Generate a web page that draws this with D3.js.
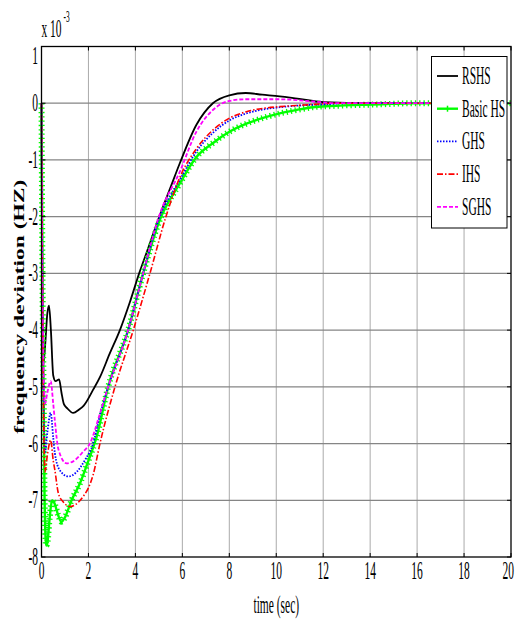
<!DOCTYPE html>
<html>
<head>
<meta charset="utf-8">
<script src="https://cdn.jsdelivr.net/npm/d3@7/dist/d3.min.js"></script>
<style>
  body { margin: 0; background: #fff; }
  svg { display: block; }
</style>
</head>
<body>
<div id="chart"></div>
<script>
// series, [time (sec), deviation x 1e-3]
const rshs = [[0,0],[0.03,-2.5],[0.08,-4.6],[0.15,-4.3],[0.25,-3.7],[0.32,-3.57],[0.4,-4.0],[0.5,-4.8],[0.6,-4.9],[0.75,-4.87],[0.85,-5.1],[0.95,-5.3],[1.1,-5.38],[1.35,-5.46],[1.6,-5.4],[1.8,-5.33],[2.2,-5.05],[2.5,-4.82],[2.9,-4.42],[3.34,-4.0],[3.77,-3.5],[4.16,-3.0],[4.55,-2.55],[5,-2.02],[5.5,-1.48],[5.9,-1.05],[6.6,-0.38],[7.3,0.0],[8.0,0.14],[8.7,0.18],[9.4,0.15],[10.15,0.12],[10.9,0.08],[12,0.02],[14,0],[20,0]];
const basicHS = [[0,0],[0.05,-3.5],[0.1,-5.5],[0.13,-6.95],[0.2,-7.8],[0.25,-7.75],[0.35,-7.3],[0.45,-7.0],[0.55,-7.05],[0.7,-7.25],[0.85,-7.38],[1.0,-7.3],[1.28,-7.0],[1.64,-6.7],[2.0,-6.3],[2.35,-5.88],[2.84,-5.0],[3.69,-4.0],[4.33,-3.0],[5.0,-2.1],[5.9,-1.41],[6.6,-0.95],[7.31,-0.7],[8.02,-0.5],[8.73,-0.36],[9.44,-0.26],[10.15,-0.18],[10.86,-0.12],[11.56,-0.07],[12.3,-0.05],[14.4,-0.02],[15.8,0],[20,0]];
const ghs = [[0,0],[0.03,-2.5],[0.08,-5.0],[0.15,-6.15],[0.25,-5.8],[0.39,-5.46],[0.5,-5.9],[0.57,-6.17],[0.78,-6.47],[1.14,-6.58],[1.5,-6.5],[1.85,-6.29],[2.2,-6.0],[2.49,-5.5],[2.84,-5.0],[3.69,-4.0],[4.33,-3.0],[5.0,-2.05],[5.9,-1.35],[6.6,-0.85],[7.31,-0.52],[8.02,-0.3],[8.73,-0.18],[9.44,-0.11],[10.15,-0.07],[11,-0.04],[12,-0.02],[13,0],[20,0]];
const ihs = [[0,0],[0.03,-2.5],[0.08,-5.2],[0.15,-6.5],[0.25,-6.2],[0.39,-5.94],[0.5,-6.3],[0.57,-6.47],[0.72,-6.88],[0.93,-7.03],[1.21,-7.11],[1.43,-7.08],[1.78,-6.93],[2.0,-6.78],[2.2,-6.55],[2.49,-6.0],[3.13,-5.0],[3.91,-4.0],[4.62,-3.0],[5.3,-2.0],[5.9,-1.3],[6.6,-0.8],[7.31,-0.47],[8.02,-0.26],[8.73,-0.15],[9.44,-0.09],[10.15,-0.06],[10.86,-0.04],[11.6,-0.02],[12.5,0],[20,0]];
const sghs = [[0,0],[0.03,-2.5],[0.08,-4.5],[0.15,-5.3],[0.25,-5.1],[0.39,-4.9],[0.5,-5.3],[0.57,-5.6],[0.72,-6.1],[1.07,-6.35],[1.43,-6.29],[1.78,-6.14],[2.06,-6.0],[2.49,-5.47],[2.84,-5.0],[3.69,-4.0],[4.33,-3.0],[5.0,-2.0],[5.9,-1.2],[6.6,-0.5],[7.3,-0.12],[8.0,0.04],[8.7,0.07],[10.1,0.07],[11.6,0.03],[12.5,0],[20,0]];

const seriesNames = ["RSHS", "Basic HS", "GHS", "IHS", "SGHS"];
const seriesData = [rshs, basicHS, ghs, ihs, sghs];
const xTicks = [0, 2, 4, 6, 8, 10, 12, 14, 16, 18, 20];
const yTicks = [-8, -7, -6, -5, -4, -3, -2, -1, 0, 1];

const styles = [
  { color: "#000000", width: 1.8, dash: null },
  { color: "#00ff00", width: 2.4, dash: null, plus: true },
  { color: "#0000ff", width: 1.8, dash: "1.5,1.5" },
  { color: "#ff0000", width: 1.6, dash: "6,2,1.5,2" },
  { color: "#ff00ff", width: 1.8, dash: "4,2" }
];

const W = 515, H = 619;
const margin = { top: 46.5, right: 4, bottom: 62, left: 41.5 };
const squeeze = 0.46; // the picture is narrow, text looks condensed
const serif = "'Liberation Serif', 'Times New Roman', serif";

const svg = d3.select("#chart").append("svg")
  .attr("width", W).attr("height", H);

const x = d3.scaleLinear().domain([0, 20]).range([margin.left, W - margin.right]);
const y = d3.scaleLinear().domain([-8, 1]).range([H - margin.bottom, margin.top]);

// grid
svg.append("g").selectAll("line").data(xTicks.slice(1, -1)).join("line")
  .attr("x1", d => x(d)).attr("x2", d => x(d))
  .attr("y1", y(-8)).attr("y2", y(1))
  .attr("stroke", "#aaaaaa").attr("stroke-width", 1);
svg.append("g").selectAll("line").data(yTicks.slice(1, -1)).join("line")
  .attr("x1", x(0)).attr("x2", x(20))
  .attr("y1", d => y(d)).attr("y2", d => y(d))
  .attr("stroke", "#858585").attr("stroke-width", 1.3);

// curves
const line = d3.line()
  .x(d => x(d[0])).y(d => y(d[1]))
  .curve(d3.curveMonotoneX);

seriesData.forEach((s, i) => {
  const st = styles[i];
  const p = svg.append("path").datum(s)
    .attr("d", line)
    .attr("fill", "none")
    .attr("stroke", st.color)
    .attr("stroke-width", st.width)
    .attr("stroke-linejoin", "round");
  if (st.dash) p.attr("stroke-dasharray", st.dash);
  if (st.plus) {
    // '+' markers: short thick dashes across the line
    svg.append("path").datum(s)
      .attr("d", line)
      .attr("fill", "none")
      .attr("stroke", st.color)
      .attr("stroke-width", 6)
      .attr("stroke-dasharray", "1.3,3");
  }
});

// box and inward ticks
svg.append("rect")
  .attr("x", x(0)).attr("y", y(1))
  .attr("width", x(20) - x(0)).attr("height", y(-8) - y(1))
  .attr("fill", "none").attr("stroke", "#000").attr("stroke-width", 1.3);

const tk = svg.append("g").attr("stroke", "#000").attr("stroke-width", 1);
xTicks.forEach(d => {
  tk.append("line").attr("x1", x(d)).attr("x2", x(d)).attr("y1", y(-8)).attr("y2", y(-8) - 4);
  tk.append("line").attr("x1", x(d)).attr("x2", x(d)).attr("y1", y(1)).attr("y2", y(1) + 4);
});
yTicks.forEach(d => {
  tk.append("line").attr("x1", x(0)).attr("x2", x(0) + 4).attr("y1", y(d)).attr("y2", y(d));
  tk.append("line").attr("x1", x(20)).attr("x2", x(20) - 4).attr("y1", y(d)).attr("y2", y(d));
});

// condensed text helper
function ctext(g, str, tx, ty, size, anchor) {
  return g.append("text")
    .attr("transform", `translate(${tx},${ty}) scale(${squeeze},1)`)
    .attr("text-anchor", anchor || "start")
    .attr("font-family", serif)
    .attr("font-size", size)
    .attr("fill", "#000")
    .text(str);
}

const labels = svg.append("g");
xTicks.forEach((d, i) => {
  const last = i === xTicks.length - 1;
  ctext(labels, d, last ? W - 1 : x(d), H - margin.bottom + 22, 25, last ? "end" : "middle");
});
yTicks.forEach(d => {
  const off = d === 1 ? 9 : 0;
  ctext(labels, d, x(0) - 3.5, y(d) + 8 + off, 25, "end");
});

// exponent
ctext(labels, "x 10", x(0), 37, 25, "start");
ctext(labels, "-3", x(0) + 22, 22, 16, "start");

// axis titles
ctext(labels, "time (sec)", (x(0) + x(20)) / 2, 613, 25, "middle");
svg.append("text")
  .attr("transform", `translate(19,${(y(1) + y(-8)) / 2 + 5}) rotate(-90) scale(1,0.62)`)
  .attr("text-anchor", "middle")
  .attr("dy", "0.35em")
  .attr("font-family", serif)
  .attr("font-weight", "bold")
  .attr("font-size", 23.5)
  .text("frequency deviation (HZ)");

// legend
const lg = svg.append("g");
lg.append("rect")
  .attr("x", 431.5).attr("y", 56.5).attr("width", 75.5).attr("height", 171.5)
  .attr("fill", "#fff").attr("stroke", "#000").attr("stroke-width", 1);
seriesNames.forEach((name, i) => {
  const st = styles[i];
  const cy = 76 + i * 32.7;
  const l = lg.append("line")
    .attr("x1", 437).attr("x2", 458).attr("y1", cy).attr("y2", cy)
    .attr("stroke", st.color).attr("stroke-width", st.width);
  if (st.dash) l.attr("stroke-dasharray", st.dash);
  if (st.plus) {
    lg.append("line").attr("x1", 447.5).attr("x2", 447.5).attr("y1", cy - 3).attr("y2", cy + 3)
      .attr("stroke", st.color).attr("stroke-width", 1.5);
  }
  ctext(lg, name, 462, cy + 8, 25, "start");
});
</script>
</body>
</html>
